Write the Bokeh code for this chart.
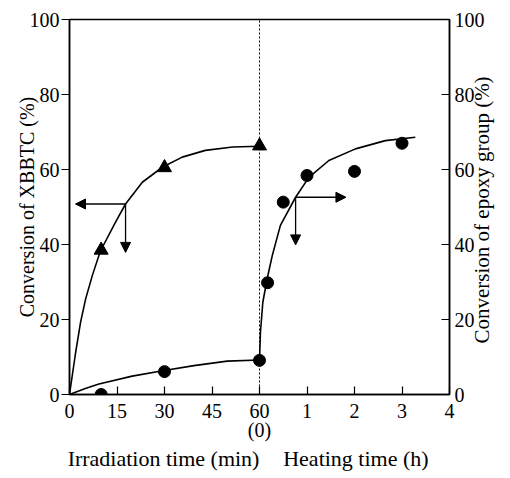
import math
from bokeh.plotting import figure
from bokeh.models import Range1d, LinearAxis, FixedTicker, Arrow, NormalHead
from bokeh.embed import file_html
from bokeh.resources import INLINE

FONT = "Liberation Serif"

# ---- tick labels ----
irr_tick_labels = ["0", "15", "30", "45", "60"]     # irradiation time (min)
heat_tick_labels = ["1", "2", "3", "4"]             # heating time (h)
heat_zero_label = "(0)"
y_ticks = [0, 20, 40, 60, 80, 100]

# ---- titles ----
left_title = "Conversion of XBBTC (%)"
right_title = "Conversion of epoxy group (%)"
irr_title = "Irradiation time (min)"
heat_title = "Heating time (h)"

# ---- measured points ----
xbbtc_time_min = [10, 30, 60]
xbbtc_conv = [38.5, 60.5, 66.3]

epoxy_irr_time_min = [10, 30, 60]
epoxy_irr_conv = [0.0, 6.1, 9.1]

epoxy_heat_time_h = [0.17, 0.5, 1, 2, 3]
epoxy_heat_conv = [29.8, 51.3, 58.4, 59.5, 67.0]

# ---- traced fitted curves ----
xbbtc_curve_min = [0, 1.9, 3.5, 5.1, 7.2, 9.3, 10.1, 14.5, 17.7, 23.0, 29.3, 35.6, 42.9, 51.5, 60]
xbbtc_curve_conv = [0, 11.0, 19.3, 25.5, 31.7, 37.1, 38.8, 45.9, 50.8, 56.6, 60.6, 63.3, 65.1, 66.0, 66.2]

epoxy_irr_curve_min = [0, 5, 9.3, 19.8, 29.9, 39.3, 49.8, 60]
epoxy_irr_curve_conv = [0, 1.6, 2.8, 4.9, 6.4, 7.7, 8.9, 9.2]

epoxy_heat_curve_h = [0, 0.02, 0.07, 0.16, 0.27, 0.44, 0.76, 1.04, 1.46, 2.02, 2.65, 3.28]
epoxy_heat_curve_conv = [9.2, 16.6, 24.6, 30.8, 37.1, 45.1, 52.6, 57.9, 62.4, 65.5, 67.7, 68.6]

# ---- axis-indicating arrows ----
left_arrow_origin_min, left_arrow_origin_conv = 17.7, 50.8
left_arrow_tip_min, left_arrow_down_conv = 1.9, 37.9
right_arrow_origin_h, right_arrow_origin_conv = 0.76, 52.6
right_arrow_tip_h, right_arrow_down_conv = 1.82, 39.9

# title anchors, in data units of each axis
irr_title_center_min = 29.7
heat_title_center_h = 2.03
right_title_start_conv = 13.6

MIN_PER_UNIT = 15.0
HEAT_OFFSET = len(irr_tick_labels) - 1
X_END = HEAT_OFFSET + len(heat_tick_labels)


def irr(t):
    return [v / MIN_PER_UNIT for v in t] if isinstance(t, list) else t / MIN_PER_UNIT


def heat(h):
    return [HEAT_OFFSET + v for v in h] if isinstance(h, list) else HEAT_OFFSET + h


p = figure(width=510, height=478, x_range=Range1d(0, X_END), y_range=Range1d(0, 100),
           output_backend="svg", toolbar_location=None,
           min_border_left=69, min_border_right=61, min_border_top=19, min_border_bottom=84,
           background_fill_color="white", border_fill_color="white")
p.grid.visible = False
p.outline_line_color = "black"
p.outline_line_width = 1.5

# bottom axis
overrides = {}
for i, lab in enumerate(irr_tick_labels):
    overrides[i] = lab
for i, lab in enumerate(heat_tick_labels):
    overrides[HEAT_OFFSET + 1 + i] = lab
xa = p.xaxis[0]
xa.ticker = FixedTicker(ticks=sorted(overrides.keys()))
xa.major_label_overrides = overrides
xa.major_tick_in = 8
xa.major_tick_out = 0
xa.minor_tick_in = 0
xa.minor_tick_out = 0
xa.major_label_standoff = 9

ya = p.yaxis[0]
ya.ticker = FixedTicker(ticks=y_ticks)
ya.major_tick_in = 0
ya.major_tick_out = 8
ya.minor_tick_in = 0
ya.minor_tick_out = 0
ya.major_label_standoff = 2
ya.axis_label = left_title
ya.axis_label_standoff = -11

ra = LinearAxis(ticker=FixedTicker(ticks=y_ticks))
ra.major_tick_in = 8
ra.major_tick_out = 0
ra.minor_tick_in = 0
ra.minor_tick_out = 0
ra.major_label_standoff = 5
p.add_layout(ra, "right")

for ax in (xa, ya, ra):
    ax.axis_line_color = "black"
    ax.axis_line_width = 1.5
    ax.major_tick_line_color = "black"
    ax.major_tick_line_width = 1.2
    ax.major_label_text_font = FONT
    ax.major_label_text_font_size = "20px"
    ax.major_label_text_color = "black"
    ax.axis_label_text_font = FONT
    ax.axis_label_text_font_size = "20px"
    ax.axis_label_text_font_style = "normal"
    ax.axis_label_text_color = "black"

# right title, read bottom-to-top, as the single label of an outer right axis
rta = LinearAxis(ticker=FixedTicker(ticks=[right_title_start_conv]),
                 major_label_overrides={right_title_start_conv: right_title},
                 major_label_orientation=math.pi / 2)
rta.major_label_standoff = -6
rta.major_label_text_font_size = "21px"

# second line under "60": heating time zero
za = LinearAxis(ticker=FixedTicker(ticks=[HEAT_OFFSET]),
                major_label_overrides={HEAT_OFFSET: heat_zero_label})
za.major_label_standoff = -2
za.major_label_text_font_size = "20px"
# the two time-axis titles
ta_pos = [irr(irr_title_center_min), heat(heat_title_center_h)]
ta = LinearAxis(ticker=FixedTicker(ticks=ta_pos),
                major_label_overrides={ta_pos[0]: irr_title, ta_pos[1]: heat_title})
ta.major_label_standoff = 2
ta.major_label_text_font_size = "22px"

for ax in (rta, za, ta):
    ax.axis_line_color = None
    ax.major_tick_line_color = None
    ax.minor_tick_line_color = None
    ax.major_tick_in = 0
    ax.major_tick_out = 0
    ax.minor_tick_in = 0
    ax.minor_tick_out = 0
    ax.major_label_text_font = FONT
    ax.major_label_text_color = "black"
p.add_layout(rta, "right")
p.add_layout(za, "below")
p.add_layout(ta, "below")

# dotted separator at 60 min / 0 h
p.line(x=[HEAT_OFFSET, HEAT_OFFSET], y=[0, 100], line_color="black", line_width=1, line_dash="2 2")

# curves
p.line(x=irr(xbbtc_curve_min), y=xbbtc_curve_conv, line_color="black", line_width=1.6)
p.line(x=irr(epoxy_irr_curve_min), y=epoxy_irr_curve_conv, line_color="black", line_width=1.6)
p.line(x=heat(epoxy_heat_curve_h), y=epoxy_heat_curve_conv, line_color="black", line_width=1.6)

# markers
p.scatter(x=irr(xbbtc_time_min), y=xbbtc_conv, marker="triangle", size=14,
          fill_color="black", line_color="black")
p.scatter(x=irr(epoxy_irr_time_min), y=epoxy_irr_conv, marker="circle", size=12,
          fill_color="black", line_color="black")
p.scatter(x=heat(epoxy_heat_time_h), y=epoxy_heat_conv, marker="circle", size=12,
          fill_color="black", line_color="black")


# arrows
def head():
    return NormalHead(size=10, fill_color="black", line_color="black", line_width=1)


p.add_layout(Arrow(x_start=irr(left_arrow_origin_min), y_start=left_arrow_origin_conv,
                   x_end=irr(left_arrow_tip_min), y_end=left_arrow_origin_conv,
                   end=head(), line_color="black", line_width=1.3))
p.add_layout(Arrow(x_start=irr(left_arrow_origin_min), y_start=left_arrow_origin_conv,
                   x_end=irr(left_arrow_origin_min), y_end=left_arrow_down_conv,
                   end=head(), line_color="black", line_width=1.3))
p.add_layout(Arrow(x_start=heat(right_arrow_origin_h), y_start=right_arrow_origin_conv,
                   x_end=heat(right_arrow_tip_h), y_end=right_arrow_origin_conv,
                   end=head(), line_color="black", line_width=1.3))
p.add_layout(Arrow(x_start=heat(right_arrow_origin_h), y_start=right_arrow_origin_conv,
                   x_end=heat(right_arrow_origin_h), y_end=right_arrow_down_conv,
                   end=head(), line_color="black", line_width=1.3))

open("out.html", "w").write(file_html(p, INLINE))
